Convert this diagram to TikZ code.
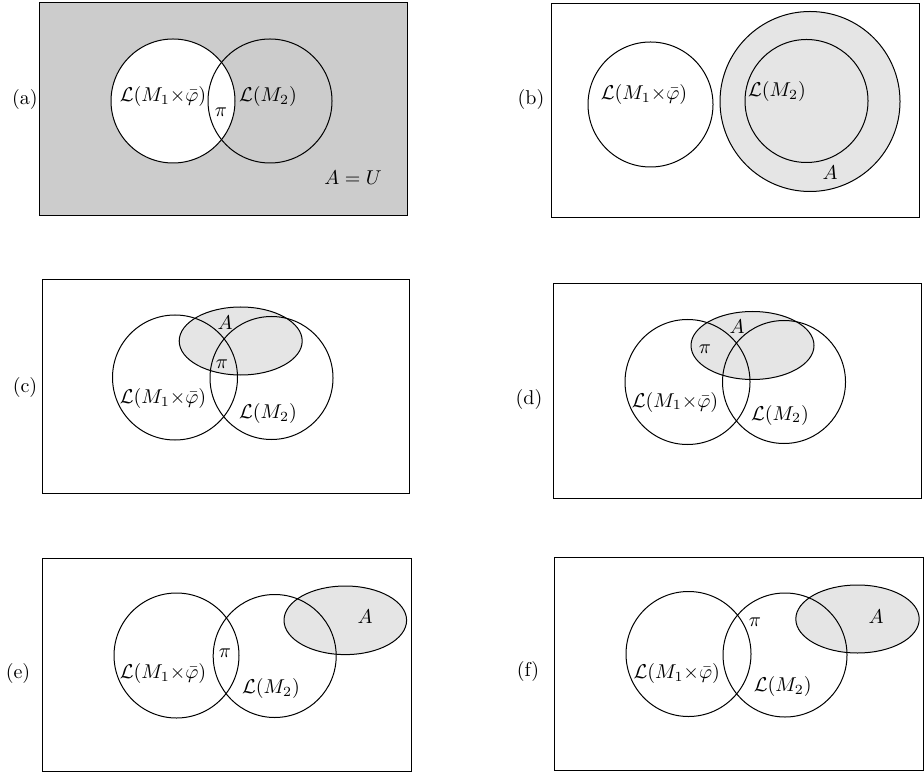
\documentclass[tikz,border=0pt]{standalone}
\begin{document}
\begin{tikzpicture}[x=0.5pt,y=-0.5pt,
  frame/.style={draw=black, line width=0.5pt},
  setline/.style={draw=black, line width=0.5pt},
  lbl/.style={inner sep=0pt, font=\normalsize},
  darkfill/.style={fill=gray!40},
  lightfill/.style={fill=gray!20}]
\useasboundingbox (0,0) rectangle (924,774);
\newcommand{\Lphi}{$\mathcal{L}(M_1{\times}\bar\varphi)$}
\newcommand{\Ltwo}{$\mathcal{L}(M_2)$}

% ---------- (a)
\path[darkfill,frame] (39,3) rectangle (407,216);
\path[fill=white] (173,101) circle (62);
\path[setline] (173,101) circle (62);
\path[setline] (270,101) circle (62);
\node[lbl] (aL1) at (163,97) {\Lphi};
\node[lbl] (aL2) at (268,97) {\Ltwo};
\node[lbl] (api) at (221,112) {$\pi$};
\node[lbl] (aA) at (353,178) {$A=U$};
\node[lbl] (alab) at (25,100) {(a)};

% ---------- (b)
\path[frame] (551,4) rectangle (919,218);
\path[setline] (650.5,104.5) circle (62.5);
\path[lightfill,setline] (810,101.5) circle (90);
\path[setline] (806.5,101) circle (61.5);
\node[lbl] (bL1) at (644,95) {\Lphi};
\node[lbl] (bL2) at (777,92) {\Ltwo};
\node[lbl] (bA) at (830,173) {$A$};
\node[lbl] (blab) at (531,100) {(b)};

% ---------- (c)
\path[frame] (42,280) rectangle (409,493);
\path[lightfill,setline] (240.7,341) ellipse (61.5 and 34);
\path[setline] (175,377.5) circle (62.5);
\path[setline] (271.5,378) circle (61.5);
\node[lbl] (cA) at (225,323) {$A$};
\node[lbl] (cpi) at (222,364) {$\pi$};
\node[lbl] (cL1) at (163,398) {\Lphi};
\node[lbl] (cL2) at (268,413) {\Ltwo};
\node[lbl] (clab) at (25,388) {(c)};

% ---------- (d)
\path[frame] (553,284) rectangle (921,498);
\path[lightfill,setline] (752.5,345.5) ellipse (61.5 and 34);
\path[setline] (687.5,382) circle (62.5);
\path[setline] (784,382) circle (61.5);
\node[lbl] (dA) at (737,327) {$A$};
\node[lbl] (dpi) at (705,349) {$\pi$};
\node[lbl] (dL1) at (675,402) {\Lphi};
\node[lbl] (dL2) at (780,415) {\Ltwo};
\node[lbl] (dlab) at (529,399) {(d)};

% ---------- (e)
\path[frame] (42,558) rectangle (411,771);
\path[lightfill,setline] (345.3,620.3) ellipse (61.3 and 34.3);
\path[setline] (176.5,655.5) circle (62.5);
\path[setline] (274.7,656) circle (61.5);
\node[lbl] (eA) at (365,617) {$A$};
\node[lbl] (epi) at (225,652.7) {$\pi$};
\node[lbl] (eL1) at (163,673) {\Lphi};
\node[lbl] (eL2) at (271,688) {\Ltwo};
\node[lbl] (elab) at (18,673) {(e)};

% ---------- (f)
\path[frame] (554,557) rectangle (923,770);
\path[lightfill,setline] (857.5,619) ellipse (61.7 and 34);
\path[setline] (688.5,654) circle (62.5);
\path[setline] (785,655) circle (62);
\node[lbl] (fA) at (876,616.7) {$A$};
\node[lbl] (fpi) at (755,621.7) {$\pi$};
\node[lbl] (fL1) at (676.7,673) {\Lphi};
\node[lbl] (fL2) at (782.7,686.7) {\Ltwo};
\node[lbl] (flab) at (528,671.7) {(f)};
\end{tikzpicture}
\end{document}
